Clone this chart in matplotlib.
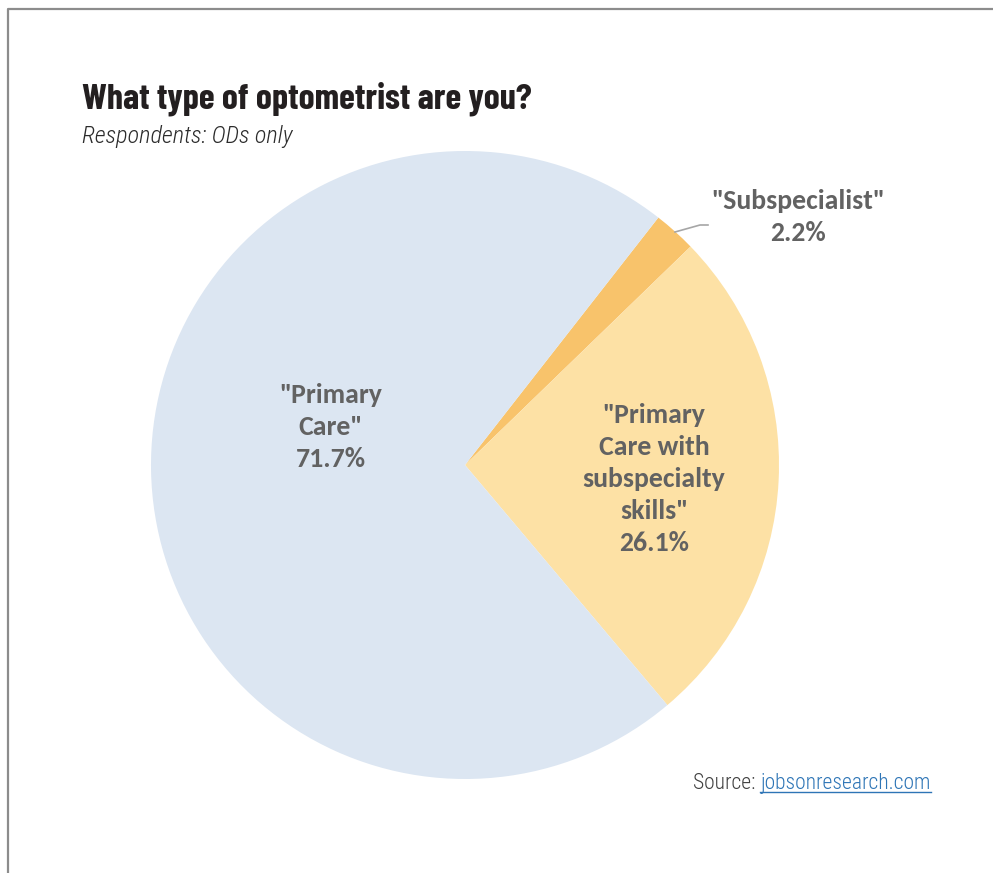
import matplotlib.pyplot as plt
from matplotlib.lines import Line2D

labels = ['"Subspecialist"', '"Primary\nCare with\nsubspecialty\nskills"', '"Primary\nCare"']
shares = [2.2, 26.1, 71.7]
colors = ['#f8c36b', '#fde1a5', '#dce6f2']

W, H = 993, 873
fig = plt.figure(figsize=(W / 100, H / 100), dpi=100)
ax = fig.add_axes([0, 0, 1, 1])

cx, cy, r = 465, H - 465, 314
ax.pie(shares, colors=colors, startangle=52, counterclock=False,
       center=(cx, cy), radius=r, frame=True,
       wedgeprops=dict(linewidth=0))
ax.set_xlim(0, W)
ax.set_ylim(0, H)
ax.set_aspect('equal')
ax.axis('off')

lab_font = dict(family=['Carlito', 'DejaVu Sans'], fontweight='bold', fontsize=20,
                color='#626262', ha='center', va='center', linespacing=1.4)
label_pos = [(331, 427), (654, 479), (798, 217)][::-1]
for name, val, (x, y) in zip(labels, shares, label_pos):
    ax.text(x, H - y, f'{name}\n{val}%', **lab_font)

# leader line for the small slice
ax.plot([675, 700, 708], [H - 232, H - 225, H - 225], color='#a6a6a6', lw=1.2)

# title block
fig.text(82 / W, 1 - 108 / H, 'What type of optometrist are you?',
         family=['Barlow Condensed'], fontweight='bold',
         fontsize=26, color='#231f20', ha='left', va='baseline')
fig.text(82 / W, 1 - 143 / H, 'Respondents: ODs only',
         family=['Roboto Condensed'], fontweight='light', style='italic',
         fontsize=17.5, color='#2b2b2b', ha='left', va='baseline')

# source
src = fig.text(693 / W, 1 - 789 / H, 'Source: ', family=['Roboto Condensed'],
               fontweight='light', fontsize=15.5, color='#404040',
               ha='left', va='baseline')
fig.canvas.draw()
bb = src.get_window_extent()
link = fig.text(bb.x1 / W, 1 - 789 / H, 'jobsonresearch.com', family=['Roboto Condensed'],
                fontweight='light', fontsize=15.5, color='#2e75b6',
                ha='left', va='baseline')
lb = link.get_window_extent()
fig.add_artist(Line2D([lb.x0 / W, lb.x1 / W], [(H - 792) / H] * 2,
                      color='#2e75b6', lw=1, transform=fig.transFigure))

# frame edges on left and top
fig.add_artist(Line2D([7.5 / W, 7.5 / W, 1], [0, 1 - 8.5 / H, 1 - 8.5 / H],
                      color='#8c8c8c', lw=1.6, transform=fig.transFigure))

fig.savefig('out.png', dpi=100, facecolor='white')
